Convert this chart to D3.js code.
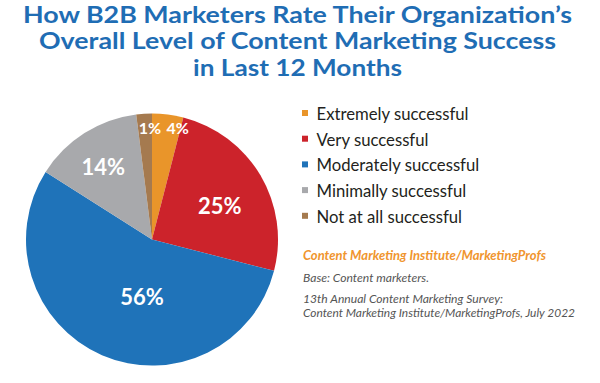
<!DOCTYPE html>
<html><head><meta charset="utf-8">
<script src="https://cdn.jsdelivr.net/npm/d3@7"></script>
<style>html,body{margin:0;padding:0;background:#fff;} svg{display:block}</style>
</head><body>
<svg id="c" width="600" height="383"></svg>
<script>
// ---- data ----
const titleLines = ["How B2B Marketers Rate Their Organization’s", "Overall Level of Content Marketing Success", "in Last 12 Months"];
const categories = ["Extremely successful", "Very successful", "Moderately successful", "Minimally successful", "Not at all successful"];
const percentLabels = ["4%", "25%", "56%", "14%", "1%"];
const sliceShares = [4, 25, 55, 14, 2]; // share of the circle each slice takes, as drawn
const sourceName = "Content Marketing Institute/MarketingProfs";
const notes = ["Base: Content marketers.", "13th Annual Content Marketing Survey:", "Content Marketing Institute/MarketingProfs, July 2022"];

// ---- styling / layout ----
const colors = ["#e9952a", "#cc232b", "#1f73b9", "#a8a9ac", "#a57a4f"];
const labelRadiusFactor = [0.91, 0.60, 0.46, 0.69, 0.885];
const labelAngleNudge = [0.10, 0.077, -0.236, -0.028, 0.045];
const labelFontSize = [16, 22, 22, 22, 16];

const svg = d3.select("#c");
const W = 600, H = 383;
svg.append("rect").attr("width", W).attr("height", H).attr("fill", "#fff");

function fitText(sel, target) {
  sel.each(function () {
    const w = this.getComputedTextLength();
    if (w > 0) d3.select(this).attr("textLength", target).attr("lengthAdjust", "spacingAndGlyphs");
  });
}

// Title
const titleWidths = [549, 517, 209];
const titleBase = [22.5, 49, 75.5];
titleLines.forEach((t, i) => {
  const el = svg.append("text")
    .attr("x", 297.5).attr("y", titleBase[i])
    .attr("text-anchor", "middle")
    .attr("font-family", "Lato, sans-serif").attr("font-weight", 700)
    .attr("font-size", 23.5).attr("fill", "#1f6db4")
    .text(t);
  fitText(el, titleWidths[i]);
});

// Pie
const cx = 152, cy = 239.5, R = 126;
const pie = d3.pie().sort(null).value(d => d)(sliceShares);
const arc = d3.arc().innerRadius(0).outerRadius(R);
const g = svg.append("g").attr("transform", `translate(${cx},${cy})`);
g.selectAll("path.slice").data(pie).join("path")
  .attr("class", "slice")
  .attr("d", arc)
  .attr("fill", (d, i) => colors[i]);

g.selectAll("text.lbl").data(pie).join("text")
  .attr("class", "lbl")
  .attr("transform", (d, i) => {
    const a = (d.startAngle + d.endAngle) / 2 + labelAngleNudge[i];
    const r = R * labelRadiusFactor[i];
    return `translate(${r * Math.sin(a)},${-r * Math.cos(a)})`;
  })
  .attr("text-anchor", "middle")
  .attr("dy", "0.36em")
  .attr("font-family", "Lato, sans-serif").attr("font-weight", 700)
  .attr("font-size", (d, i) => labelFontSize[i])
  .attr("fill", "#fff")
  .text((d, i) => percentLabels[i]);

// Legend
const legendY = d3.scalePoint().domain(categories).range([120, 222.8]);
const lg = svg.append("g");
const rows = lg.selectAll("g").data(categories).join("g")
  .attr("transform", d => `translate(0,${legendY(d)})`);
rows.append("rect").attr("x", 302).attr("y", -10).attr("width", 6).attr("height", 6)
  .attr("fill", (d, i) => colors[i]);
const legTexts = rows.append("text").attr("x", 316.5).attr("y", 0)
  .attr("font-family", "Lato, sans-serif").attr("font-size", 17)
  .attr("fill", "#231f20")
  .text(d => d);
const firstW = legTexts.node().getComputedTextLength();
const legScale = 152 / firstW;
legTexts.each(function () {
  const w = this.getComputedTextLength();
  d3.select(this).attr("textLength", w * legScale).attr("lengthAdjust", "spacingAndGlyphs");
});

// Source
const src = svg.append("text").attr("x", 303).attr("y", 260)
  .attr("font-family", "Lato, sans-serif").attr("font-weight", 700).attr("font-style", "italic")
  .attr("font-size", 12.5).attr("fill", "#f0952e")
  .text(sourceName);
fitText(src, 243);

const noteBase = [281.7, 303.3, 316.7];
const noteWidths = [126, 200, 272];
notes.forEach((t, i) => {
  const el = svg.append("text").attr("x", 303).attr("y", noteBase[i])
    .attr("font-family", "Lato, sans-serif").attr("font-style", "italic")
    .attr("font-size", 11).attr("fill", "#555")
    .text(t);
  fitText(el, noteWidths[i]);
});
</script>
</body></html>
